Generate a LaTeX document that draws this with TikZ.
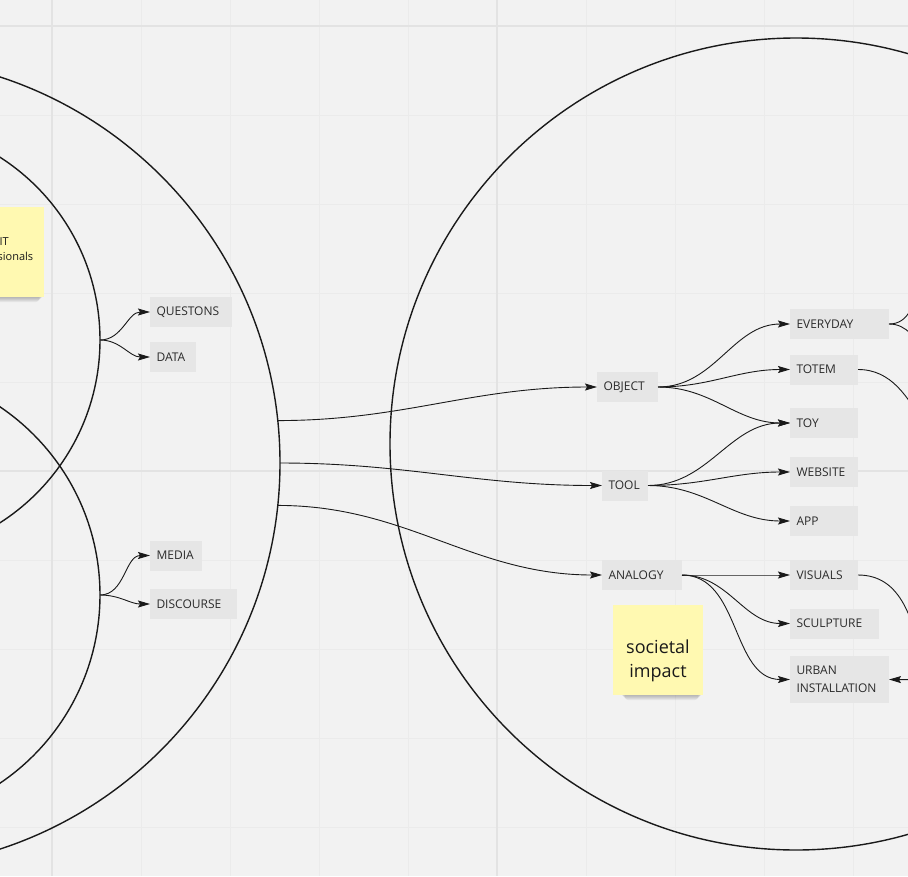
\documentclass[tikz,border=0pt]{standalone}
\usepackage{fontspec}
\setmainfont{Open Sans}
\usetikzlibrary{arrows.meta}
\definecolor{bg}{HTML}{F2F2F2}
\definecolor{gridminor}{HTML}{EBEBEB}
\definecolor{gridmajor}{HTML}{E3E3E3}
\definecolor{boxgray}{HTML}{E6E6E6}
\definecolor{txt}{HTML}{2B2B2B}
\definecolor{ink}{HTML}{1A1A1A}
\definecolor{sticky}{HTML}{FFF9B1}
\begin{document}
\begin{tikzpicture}[x=1pt,y=-1pt,
  tag/.style={fill=boxgray,text=txt,font=\fontsize{12}{18}\selectfont,anchor=west,align=left,inner xsep=6.5pt,inner ysep=0pt,minimum height=30pt,outer sep=0pt},
  ring/.style={circle,draw=ink,line width=1.4pt,inner sep=0pt,outer sep=0pt},
  link/.style={draw=ink,line width=0.9pt,-{Stealth[length=12pt,width=7pt,inset=2pt]}},
  plain/.style={draw=ink,line width=0.9pt},
  note/.style={fill=sticky,minimum width=90pt,minimum height=90pt,inner sep=0pt,outer sep=0pt},
  softshadow/.style={fill=black,opacity=0.05,rounded corners=3pt}
]
\useasboundingbox (0,0) rectangle (908,876);
\clip (0,0) rectangle (908,876);
\fill[bg] (0,0) rectangle (908,876);
% grid
\foreach \x in {-37,52,...,942} \draw[gridminor,line width=1pt] (\x,0) -- (\x,876);
\foreach \y in {-63,26,...,915} \draw[gridminor,line width=1pt] (0,\y) -- (908,\y);
\foreach \x in {52,497} \draw[gridmajor,line width=2pt] (\x,0) -- (\x,876);
\foreach \y in {26,471} \draw[gridmajor,line width=2pt] (0,\y) -- (908,\y);

% circles
\node[ring,minimum size=434pt] (UL) at (-117,340) {};
\node[ring,minimum size=454pt] (LL) at (-127,595) {};
\node[ring,minimum size=812pt] (L) at (-126,463) {};
\node[ring,minimum size=812pt] (R) at (796,444) {};

% sticky note shadows
\foreach \d in {1,2,3,4,5} {
  \fill[softshadow] (-40+\d,230) rectangle (44-\d,297+\d);
  \fill[softshadow] (620+\d,640) rectangle (703-\d,695+\d);
}
% sticky notes
\node[note] (n1) at (-1,252) {};
\node[font=\fontsize{11}{16}\selectfont,text=ink,anchor=east,inner sep=0pt] (n1a) at (9,242) {IT};
\node[font=\fontsize{11}{16}\selectfont,text=ink,inner sep=0pt] (n1b) at (-1,258) {professionals};
\node[note] (n2) at (658,650) {};
\node[font=\fontsize{18}{24}\selectfont,text=ink,align=center,inner sep=0pt] (n2t) at (658,661) {societal\\impact};

% boxes
\node[tag,text width=69pt] (questons) at (150,312) {QUESTONS};
\node[tag,text width=33pt] (data) at (150,357) {DATA};
\node[tag,text width=39pt] (media) at (150,555.5) {MEDIA};
\node[tag,text width=74pt] (discourse) at (150,604) {DISCOURSE};
\node[tag,text width=48pt] (object) at (597,387) {OBJECT};
\node[tag,text width=33pt] (tool) at (602,485.5) {TOOL};
\node[tag,text width=67pt] (analogy) at (602,575) {ANALOGY};
\node[tag,text width=86pt] (everyday) at (790,324) {EVERYDAY};
\node[tag,text width=55pt] (totem) at (790,369.5) {TOTEM};
\node[tag,text width=55pt] (toy) at (790,423) {TOY};
\node[tag,text width=55pt] (website) at (790,472) {WEBSITE};
\node[tag,text width=55pt] (app) at (790,521) {APP};
\node[tag,text width=55pt] (visuals) at (790,575) {VISUALS};
\node[tag,text width=76pt] (sculpture) at (790,623.5) {SCULPTURE};
\node[tag,text width=86pt,minimum height=47pt] (urban) at (790,679.5) {URBAN\\INSTALLATION};

% off-picture ends
\coordinate (e1) at (950,240);
\coordinate (e2) at (960,385);
\coordinate (e3) at (990,480);
\coordinate (e4) at (990,760);
\coordinate (e5) at (960,680);

% connectors
\draw[link] (UL.east) to[out=0,in=180] (questons.west);
\draw[link] (UL.east) to[out=0,in=180] (data.west);
\draw[link] (LL.east) to[out=0,in=180] (media.west);
\draw[link] (LL.east) to[out=0,in=180] (discourse.west);
\draw[link] (L.6) to[out=0,in=180] (object.west);
\draw[link] (L.0) to[out=0,in=180] (tool.west);
\draw[link] (L.-6) to[out=0,in=180] (analogy.west);
\draw[link] (object.east) to[out=0,in=180] (everyday.west);
\draw[link] (object.east) to[out=0,in=180] (totem.west);
\draw[link] (object.east) to[out=0,in=180] (toy.west);
\draw[link] (tool.east) to[out=0,in=180] (toy.west);
\draw[link] (tool.east) to[out=0,in=180] (website.west);
\draw[link] (tool.east) to[out=0,in=180] (app.west);
\draw[link] (analogy.east) to[out=0,in=180] (visuals.west);
\draw[link] (analogy.east) to[out=0,in=180] (sculpture.west);
\draw[link] (analogy.east) to[out=0,in=180] (urban.west);
\draw[plain] (everyday.east) to[out=0,in=180] (e1);
\draw[plain] (everyday.east) to[out=0,in=180] (e2);
\draw[plain] (totem.east) to[out=0,in=180] (e3);
\draw[plain] (visuals.east) to[out=0,in=180] (e4);
\draw[link] (e5) -- (urban.east);
\end{tikzpicture}
\end{document}
